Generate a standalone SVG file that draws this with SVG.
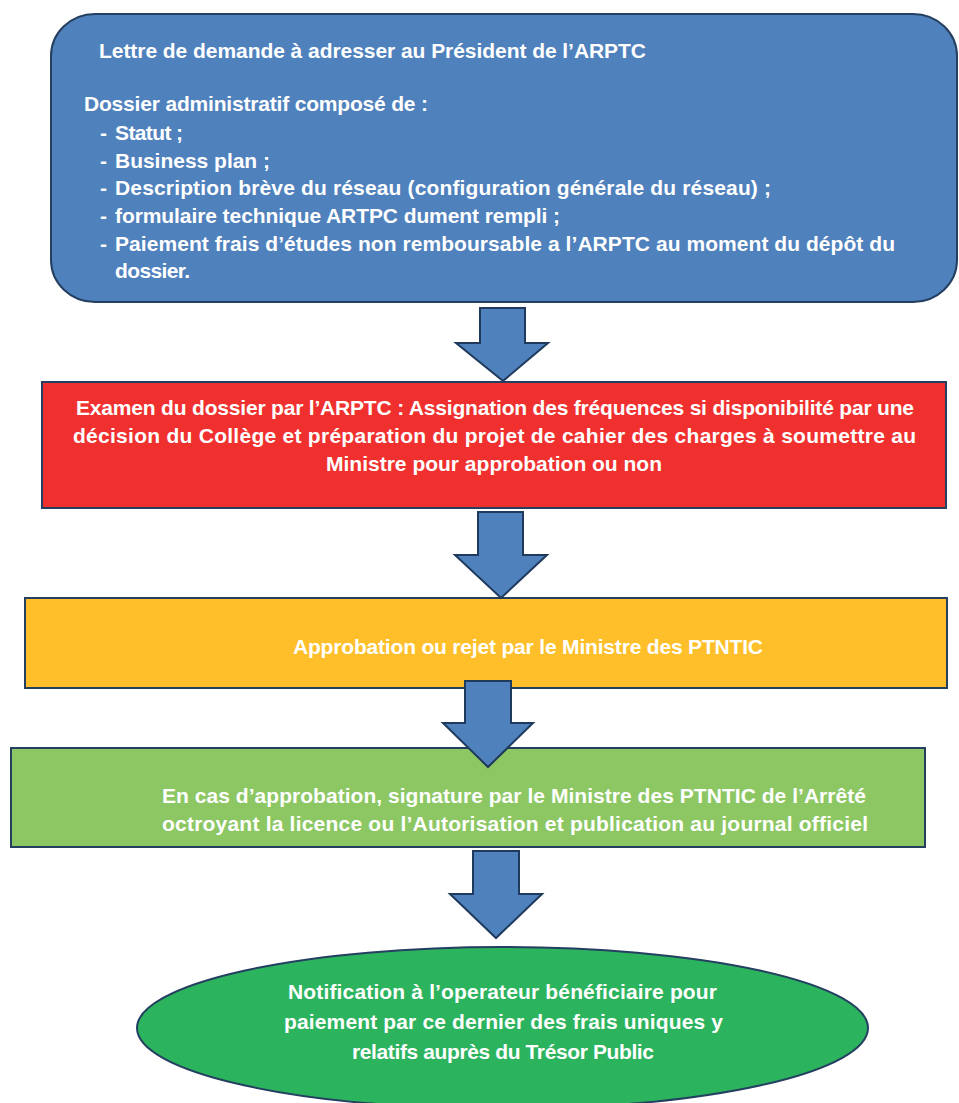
<svg xmlns="http://www.w3.org/2000/svg" width="959" height="1103" viewBox="0 0 959 1103">
<style>
.t{font-family:"Liberation Sans",Arial,sans-serif;font-weight:bold;font-size:21px;fill:#FFFFFF}
.c{text-anchor:middle}
.box{stroke:#243F60;stroke-width:2}
.arr{fill:#4F81BD;stroke:#1F3A5C;stroke-width:2;stroke-linejoin:miter}
</style>
<rect width="959" height="1103" fill="#FFFFFF"/>
<g id="node-dossier">
<rect class="box" x="51" y="14" width="906" height="288" rx="44" ry="42" fill="#4F81BD"/>
<text class="t" x="99" y="58" textLength="547">Lettre de demande à adresser au Président de l’ARPTC</text>
<text class="t" x="84" y="111" textLength="344">Dossier administratif composé de :</text>
<text class="t" x="100" y="140">-</text><text class="t" x="115" y="140" textLength="68">Statut ;</text>
<text class="t" x="100" y="168">-</text><text class="t" x="115" y="168" textLength="155">Business plan ;</text>
<text class="t" x="100" y="195">-</text><text class="t" x="115" y="195" textLength="656">Description brève du réseau (configuration générale du réseau) ;</text>
<text class="t" x="100" y="223">-</text><text class="t" x="115" y="223" textLength="445">formulaire technique ARTPC dument rempli ;</text>
<text class="t" x="100" y="251">-</text><text class="t" x="115" y="251" textLength="780">Paiement frais d’études non remboursable a l’ARPTC au moment du dépôt du</text>
<text class="t" x="115" y="278" textLength="75">dossier.</text>
</g>
<g id="node-examen">
<rect class="box" x="42" y="382" width="904" height="126" fill="#EF302E"/>
<text class="t c" x="495" y="415" textLength="838">Examen du dossier par l’ARPTC : Assignation des fréquences si disponibilité par une</text>
<text class="t c" x="494.5" y="443" textLength="843">décision du Collège et préparation du projet de cahier des charges à soumettre au</text>
<text class="t c" x="494" y="471" textLength="336">Ministre pour approbation ou non</text>
</g>
<g id="node-approbation">
<rect class="box" x="25" y="598" width="922" height="90" fill="#FEBF2A"/>
<text class="t c" x="528" y="654" textLength="470">Approbation ou rejet par le Ministre des PTNTIC</text>
</g>
<g id="node-signature">
<rect class="box" x="11" y="748" width="914" height="99" fill="#8CC764"/>
<text class="t c" x="514" y="803" textLength="704">En cas d’approbation, signature par le Ministre des PTNTIC de l’Arrêté</text>
<text class="t c" x="515" y="831" textLength="706">octroyant la licence ou l’Autorisation et publication au journal officiel</text>
</g>
<g id="node-notification">
<ellipse class="box" cx="502.5" cy="1028" rx="365.5" ry="81" fill="#2CB35E"/>
<text class="t c" x="502.5" y="999" textLength="429">Notification à l’operateur bénéficiaire pour</text>
<text class="t c" x="503.5" y="1029" textLength="439">paiement par ce dernier des frais uniques y</text>
<text class="t c" x="503" y="1059" textLength="302">relatifs auprès du Trésor Public</text>
</g>
<g id="connectors">
<polygon class="arr" points="480,308 525,308 525,343 548,343 503,381 456,343 480,343"/>
<polygon class="arr" points="478,512 523,512 523,555 547,555 501,598 455,555 478,555"/>
<polygon class="arr" points="465,681 511,681 511,723 533,723 488,767 443,723 465,723"/>
<polygon class="arr" points="473,851 519,851 519,894 542,894 496,938 450,894 473,894"/>
</g>
</svg>
